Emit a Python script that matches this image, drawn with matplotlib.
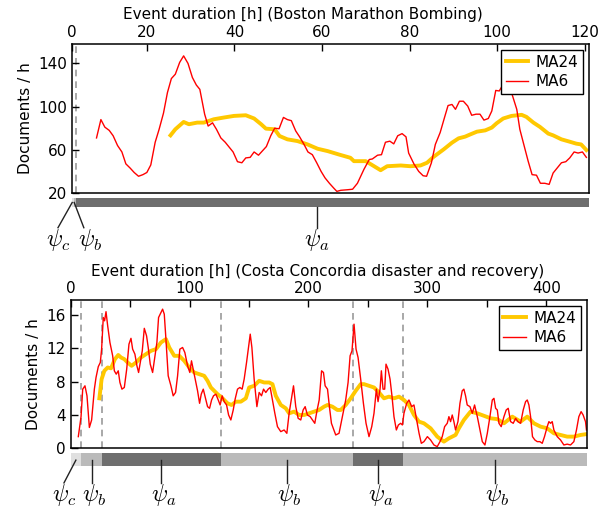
import matplotlib
matplotlib.use("Agg")
import matplotlib.pyplot as plt
from matplotlib.lines import Line2D
import matplotlib.transforms as mtransforms

plt.rcParams['font.family'] = ['DejaVu Sans']
plt.rcParams['mathtext.fontset'] = 'cm'

# ---------------- Boston Marathon Bombing ----------------
boston_ma6_h = [8.5, 9.5, 10.4, 11.4, 12.3, 13.3, 14.3, 15.2, 16.2, 17.1,
                18.1, 19.1, 20.0, 20.9, 21.9, 22.8, 23.8, 24.7, 25.6, 26.5,
                27.5, 28.4, 29.4, 30.4, 31.3, 32.1, 33.2, 34.0, 35.0, 35.9,
                36.9, 37.9, 38.8, 39.7, 40.7, 41.7, 42.6, 43.6, 44.5, 45.5,
                46.4, 47.3, 48.3, 49.2, 50.2, 51.2, 52.1, 53.0, 54.0, 54.9,
                55.9, 56.8, 57.8, 58.8, 59.8, 60.7, 61.7, 62.7, 63.4, 64.3,
                65.8, 67.0, 68.1, 69.6, 70.8, 71.5, 72.7, 73.6, 74.5, 75.5,
                76.4, 77.3, 78.3, 79.2, 79.8, 81.0, 82.1, 83.1, 83.9, 85.0,
                85.9, 87.0, 88.0, 88.8, 89.7, 90.5, 91.4, 92.3, 93.3, 94.2,
                95.2, 96.1, 97.0, 98.0, 98.8, 99.7, 100.5, 101.6, 102.5, 103.3,
                104.5, 105.2, 106.1, 107.1, 108.0, 109.0, 109.9, 110.9, 111.9, 112.8,
                113.7, 114.7, 115.7, 116.6, 117.6, 118.5, 119.5, 120.4]
boston_ma6_v = [71, 88, 81, 78, 73, 64, 58, 47, 43, 39,
                35.5, 37, 39, 46, 67, 79, 94, 113, 126, 130,
                141, 147, 140, 127, 120, 116, 93, 82, 85, 79,
                71, 67, 62.5, 58, 49, 48, 52.5, 53, 58, 55,
                59, 63, 73, 80, 79.5, 90, 88, 87, 77.5, 72,
                65, 58, 55.5, 48, 40, 34, 29, 24.5, 21.5, 22.5,
                23, 23.5, 29, 42, 51, 51.5, 55, 55.5, 67, 68,
                65.5, 73, 75, 72, 57, 47, 40, 36, 35.5, 48,
                65, 76, 90, 101, 102, 97.5, 105, 105, 100.5, 92,
                93, 93, 87.5, 89, 96, 115, 114.5, 122, 128, 113,
                97.5, 79, 65, 49.5, 37, 36.5, 29, 29, 28, 38.5,
                43, 48, 49, 52.5, 58, 57, 58, 53]
boston_ma24_h = [25.4, 26.5, 28.4, 29.6, 31.5, 33.0, 35.3, 37.6, 39.9, 42.6,
                 44.5, 46.1, 47.2, 49.2, 50.3, 52.1, 54.4, 56.7, 59.0, 61.3,
                 64.0, 66.5, 67.3, 70.0, 71.9, 73.4, 74.9, 78.0, 80.2, 82.5,
                 84.0, 85.5, 87.8, 89.7, 91.2, 92.7, 93.9, 95.4, 97.3, 98.8,
                 99.9, 101.4, 103.3, 105.6, 106.7, 108.3, 109.8, 111.7, 112.8, 114.7,
                 116.6, 118.1, 119.2, 120.4]
boston_ma24_v = [73.4, 79, 85.8, 83.7, 85.2, 85.2, 88.3, 89.9, 91.4, 92,
                 89, 83.7, 79.6, 79, 72.8, 69.7, 68.1, 65, 61, 58.8,
                 55.5, 52.6, 49.5, 49.5, 44.8, 41.1, 44.8, 45.5, 44.8, 45.5,
                 48, 53.5, 60.4, 66.6, 70.6, 72.2, 74.3, 76.8, 78, 80.6,
                 84.6, 89, 91.4, 92.4, 90.5, 85.2, 81.2, 75, 73.4, 69.7,
                 67.5, 65.7, 65, 59.8]
boston_phase_bounds = [2.9, 3.4, 3.8, 121]
boston_phases = ['c', 'b', 'a']
boston_xticks = [20, 40, 60, 80, 100, 120]
boston_yticks = [20, 60, 100, 140]

# ---------------- Costa Concordia ----------------
costa_ma6_h = [6.4, 8.7, 10.1, 12.0, 13.7, 15.7, 17.6, 19.9, 21.3, 23.2,
               24.9, 26.0, 27.4, 28.5, 29.7, 31.1, 33.0, 35.3, 36.7, 38.3,
               40.0, 41.4, 43.1, 45.1, 47.1, 49.0, 50.7, 52.1, 54.0, 55.7,
               57.1, 58.5, 60.2, 61.9, 63.8, 65.2, 66.9, 68.9, 70.3, 72.5,
               73.9, 75.9, 77.3, 78.7, 80.1, 82.0, 84.3, 86.2, 88.2, 89.9,
               91.8, 94.1, 96.0, 98.3, 100.2, 101.6, 103.3, 105.3, 106.7, 108.4,
               109.8, 111.5, 113.4, 115.1, 116.8, 118.5, 120.1, 122.1, 124.1, 125.7,
               127.4, 129.1, 131.1, 132.8, 134.7, 136.7, 138.3, 140.3, 142.3, 144.2,
               145.9, 147.9, 149.5, 151.0, 152.4, 154.3, 156.6, 158.5, 160.5, 162.2,
               164.1, 166.1, 167.8, 169.7, 171.7, 173.9, 176.7, 179.5, 181.8, 183.7,
               186.0, 187.4, 189.3, 191.3, 193.5, 195.5, 197.2, 199.1, 201.4, 203.3,
               205.3, 207.0, 209.0, 211.0, 212.6, 214.0, 216.0, 217.6, 219.3, 222.9,
               225.7, 228.5, 231.3, 233.3, 235.0, 236.6, 238.3, 240.0, 241.7, 243.9,
               246.2, 248.4, 250.9, 253.2, 255.1, 257.1, 258.5, 260.2, 261.3, 262.7,
               264.1, 265.2, 266.9, 268.6, 270.2, 271.9, 273.9, 275.6, 277.5, 279.0,
               280.3, 282.6, 284.5, 286.8, 288.7, 291.0, 293.0, 294.9, 297.1, 300.0,
               302.7, 305.5, 308.3, 310.6, 312.5, 314.5, 316.7, 318.1, 319.5, 320.9,
               322.3, 323.7, 325.7, 327.4, 329.3, 330.7, 332.1, 333.5, 335.8, 337.8,
               339.7, 342.0, 344.2, 346.2, 348.4, 350.4, 352.6, 354.6, 356.0, 357.4,
               358.8, 360.2, 362.1, 364.4, 366.3, 368.0, 370.0, 372.2, 374.2, 376.1,
               378.4, 380.6, 382.6, 384.0, 385.4, 386.8, 388.4, 390.4, 392.4, 394.6,
               396.6, 398.5, 400.8, 402.2, 403.6, 405.0, 406.4, 409.2, 412.0, 414.8,
               417.6, 420.4, 423.2, 425.4, 427.4, 429.3, 431.0, 433.0, 433.8]
costa_ma6_v = [1.4, 3.8, 7.1, 7.5, 6.3, 2.5, 3.4, 7.1, 8.5, 9.8,
               10.3, 11.9, 15.7, 15.3, 16.4, 14.7, 12.7, 11.1, 9.3, 8.9,
               9.3, 7.9, 7.1, 7.3, 9.5, 12.5, 13.2, 11.9, 11.3, 9.9,
               9.1, 10.3, 11.7, 14.4, 13.5, 12.1, 10.1, 9.1, 10.5, 12.7,
               15.7, 16.3, 16.7, 16.1, 13.1, 8.7, 7.5, 6.3, 6.7, 8.7,
               11.9, 12.1, 11.5, 9.9, 9.1, 10.5, 9.3, 7.9, 6.9, 5.4,
               6.5, 7.1, 6.0, 5.0, 4.8, 5.8, 6.3, 6.5, 5.8, 5.2,
               6.3, 5.6, 5.2, 4.0, 3.4, 4.6, 5.9, 7.1, 7.3, 7.1,
               8.3, 10.3, 12.1, 13.7, 12.1, 8.3, 5.0, 6.7, 6.3, 7.1,
               6.7, 7.1, 7.3, 5.8, 4.2, 2.6, 2.0, 2.2, 1.8, 4.2,
               6.3, 7.5, 5.0, 3.6, 3.4, 4.6, 5.0, 4.0, 3.8, 3.4,
               3.0, 4.4, 5.8, 9.3, 9.1, 7.5, 7.1, 5.0, 3.0, 1.6,
               1.8, 3.8, 5.8, 7.9, 11.1, 11.7, 14.9, 11.9, 10.9, 8.3,
               5.4, 3.0, 1.4, 2.6, 4.2, 7.1, 5.6, 7.1, 9.3, 7.1,
               7.1, 10.1, 9.5, 8.3, 6.3, 3.8, 2.2, 2.8, 3.0, 2.8,
               4.2, 5.4, 5.8, 5.0, 5.2, 3.4, 1.8, 0.6, 0.8, 1.4,
               1.0, 0.4, 0.2, 0.8, 1.4, 2.6, 3.0, 3.8, 3.2, 4.0,
               3.2, 2.2, 3.2, 5.4, 6.9, 7.1, 6.3, 5.2, 5.0, 4.2,
               5.2, 3.8, 2.2, 0.8, 0.4, 1.8, 3.8, 5.8, 6.0, 4.8,
               4.6, 3.0, 2.6, 3.8, 4.6, 4.8, 3.2, 3.0, 3.6, 3.2,
               3.0, 4.6, 5.6, 5.8, 5.2, 3.8, 1.4, 1.0, 0.8, 0.8,
               0.6, 1.4, 2.6, 3.2, 3.0, 3.2, 2.2, 1.4, 1.0, 0.4,
               0.5, 0.4, 0.8, 2.2, 3.8, 4.4, 4.0, 3.2, 2.2]
costa_ma24_h = [24.1, 26.0, 28.3, 31.1, 33.9, 37.2, 40.0, 42.3, 45.1, 47.9,
                51.2, 54.9, 59.1, 63.3, 67.5, 71.7, 75.9, 80.1, 82.9, 87.1,
                91.3, 95.5, 99.7, 103.9, 108.1, 112.3, 115.1, 117.9, 120.7, 123.5,
                127.7, 131.9, 135.3, 138.9, 143.1, 147.3, 150.1, 154.3, 158.5, 162.7,
                166.9, 169.7, 172.5, 176.7, 180.9, 183.7, 187.9, 192.1, 196.3, 200.5,
                204.7, 208.9, 213.1, 216.0, 220.1, 224.3, 227.1, 231.3, 235.5, 239.7,
                243.9, 246.7, 250.9, 255.1, 259.3, 263.5, 267.7, 271.9, 276.1, 280.3,
                284.5, 288.7, 292.9, 297.1, 302.7, 308.3, 313.9, 318.1, 323.7, 326.5,
                330.7, 336.3, 341.9, 347.6, 353.2, 358.8, 364.4, 371.4, 378.4, 384.0,
                389.6, 395.2, 400.8, 406.4, 412.0, 417.6, 423.2, 428.8, 433.8]
costa_ma24_v = [6.0, 8.3, 9.3, 9.7, 9.6, 10.7, 11.2, 10.9, 10.7, 10.3,
                9.9, 10.3, 10.9, 11.3, 11.7, 11.9, 12.7, 13.1, 12.1, 11.1,
                11.1, 10.5, 9.7, 9.1, 8.9, 8.7, 8.1, 7.3, 6.9, 6.5,
                6.0, 5.4, 5.2, 5.6, 5.6, 6.0, 7.3, 7.5, 8.1, 7.9,
                7.9, 7.7, 6.3, 5.2, 4.8, 4.2, 4.4, 4.0, 4.0, 4.2,
                4.4, 4.6, 5.0, 5.2, 5.0, 4.6, 4.6, 5.2, 6.0, 6.9,
                7.7, 7.7, 7.5, 7.3, 6.7, 6.0, 6.2, 6.0, 6.2, 5.8,
                5.2, 4.0, 3.2, 3.0, 2.4, 1.4, 0.8, 1.2, 1.6, 2.4,
                3.4, 4.4, 4.2, 3.9, 3.6, 3.5, 3.0, 3.8, 3.2, 3.8,
                3.0, 2.6, 2.4, 1.8, 1.6, 1.4, 1.4, 1.6, 1.7]
costa_phase_bounds = [0, 8.7, 26.5, 126, 237.8, 279.8, 434]
costa_phases = ['c', 'b', 'a', 'b', 'a', 'b']
costa_xticks = [0, 50, 100, 150, 200, 250, 300, 350, 400]
costa_xticklabels = ['0', '', '100', '', '200', '', '300', '', '400']
costa_yticks = [0, 4, 8, 12, 16]

phase_colors = {'c': '#e0e0e0', 'b': '#bababa', 'a': '#6e6e6e'}
MA24_COLOR = '#ffc800'
MA6_COLOR = '#ff0000'
FS = 11

W, H = 611, 508
fig = plt.figure(figsize=(W / 100, H / 100), dpi=100)


def setup_main(ax, title, ylim, yticks, title_x):
    ax.xaxis.tick_top()
    ax.xaxis.set_label_position('top')
    ax.set_xlabel(title, fontsize=FS, labelpad=6)
    ax.xaxis.set_label_coords(title_x, 1.165)
    ax.set_ylabel('Documents / h', fontsize=FS, labelpad=4)
    ax.set_ylim(*ylim)
    ax.set_yticks(yticks)
    ax.tick_params(axis='both', direction='in', length=5, width=1,
                   labelsize=FS, right=False, bottom=False)
    ax.tick_params(axis='x', pad=3)
    for s in ax.spines.values():
        s.set_linewidth(1.1)


def add_legend(ax):
    ax.legend(loc='upper right', fancybox=False, edgecolor='black',
              framealpha=1, fontsize=FS, handlelength=1.45, handletextpad=0.5,
              borderaxespad=0.4, borderpad=0.3, labelspacing=0.3)


def draw_bar(axb, bounds, phases, xlim):
    for i, ph in enumerate(phases):
        axb.axvspan(bounds[i], bounds[i + 1], color=phase_colors[ph], lw=0)
    axb.set_xlim(*xlim)
    axb.set_ylim(0, 1)
    axb.axis('off')


def pointer(axb, x0, x1, y0, y1, ylab, label, xlab=None):
    tr = mtransforms.blended_transform_factory(axb.transData, axb.transAxes)
    axb.add_line(Line2D([x0, x1], [y0, y1], transform=tr, color='#222222',
                        lw=1.0, clip_on=False))
    axb.text(x1 if xlab is None else xlab, ylab, r'$\psi_%s$' % label,
             transform=tr, ha='center', va='center', fontsize=17,
             clip_on=False)


# ---------- top panel ----------
ax1 = fig.add_axes([72 / W, (H - 193) / H, 517 / W, 149 / H])
ax1.plot(boston_ma24_h, boston_ma24_v, color=MA24_COLOR, lw=2.8, label='MA24')
ax1.plot(boston_ma6_h, boston_ma6_v, color=MA6_COLOR, lw=1.0, label='MA6')
for b in boston_phase_bounds[2:-1]:
    ax1.axvline(b, color='#999999', ls=(0, (4, 3)), lw=1.2, zorder=0)
xl1 = (boston_phase_bounds[0], boston_phase_bounds[-1])
ax1.set_xlim(*xl1)
ax1.set_xticks([xl1[0]] + boston_xticks)
ax1.set_xticklabels(['0'] + [str(t) for t in boston_xticks])
setup_main(ax1, 'Event duration [h] (Boston Marathon Bombing)', (20, 158),
           boston_yticks, 0.447)
add_legend(ax1)

axb1 = fig.add_axes([72 / W, (H - 207) / H, 517 / W, 9 / H])
draw_bar(axb1, boston_phase_bounds, boston_phases, xl1)
pointer(axb1, 2.94, -0.3, 0.5, -2.3, -3.7, 'c')
pointer(axb1, 3.4, 5.6, 0.5, -2.3, -3.7, 'b', xlab=7.0)
pointer(axb1, 58.8, 58.8, 0.0, -2.3, -3.7, 'a')

# ---------- bottom panel ----------
ax2 = fig.add_axes([70.7 / W, (H - 448.3) / H, 516 / W, 148.3 / H])
ax2.plot(costa_ma24_h, costa_ma24_v, color=MA24_COLOR, lw=2.8, label='MA24')
ax2.plot(costa_ma6_h, costa_ma6_v, color=MA6_COLOR, lw=1.0, label='MA6')
for b in costa_phase_bounds[1:-1]:
    ax2.axvline(b, color='#999999', ls=(0, (4, 3)), lw=1.2, zorder=0)
xl2 = (costa_phase_bounds[0], costa_phase_bounds[-1])
ax2.set_xlim(*xl2)
ax2.set_xticks(costa_xticks)
ax2.set_xticklabels(costa_xticklabels)
setup_main(ax2, 'Event duration [h] (Costa Concordia disaster and recovery)',
           (0, 17.8), costa_yticks, 0.479)
add_legend(ax2)

axb2 = fig.add_axes([70.7 / W, (H - 466) / H, 516 / W, 13 / H])
draw_bar(axb2, costa_phase_bounds, costa_phases, xl2)
for i, ph in enumerate(costa_phases):
    c = 0.5 * (costa_phase_bounds[i] + costa_phase_bounds[i + 1])
    if i == 0:
        pointer(axb2, c, c - 10, 0.45, -1.3, -2.2, ph)
    else:
        pointer(axb2, c, c, 0.45, -1.3, -2.2, ph, xlab=c + 2)

fig.savefig('out.png', dpi=100)
